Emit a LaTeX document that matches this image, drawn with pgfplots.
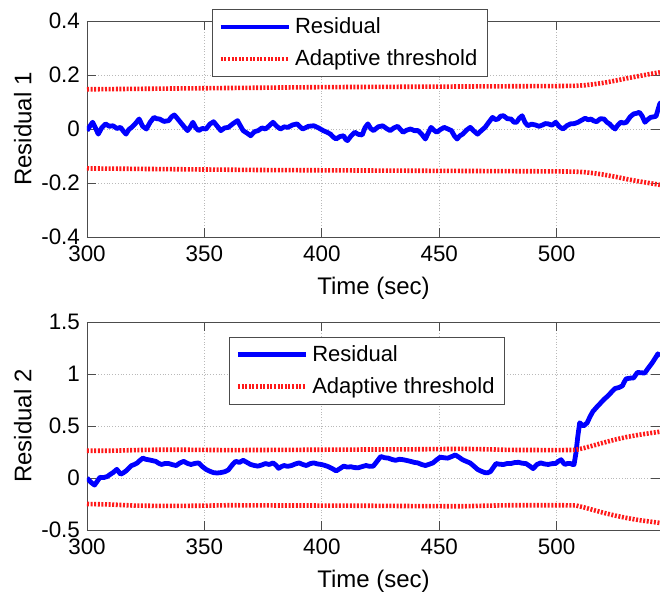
\documentclass[border=0pt]{standalone}
\usepackage{fontspec}
\setmainfont{Liberation Sans}
\usepackage{pgfplots}
\pgfplotsset{compat=1.18}
\begin{document}
\begin{tikzpicture}
\pgfplotsset{
  mystyle/.style={
    scale only axis, width=286.5pt, xmin=300, xmax=544,
    xtick={300,350,400,450,500},
    grid=major, grid style={densely dotted, gray!55},
    axis line style={gray!60!black},
    every tick/.style={gray!60!black},
    tick align=inside,
    ticklabel style={font=\fontsize{11.2}{13}\selectfont},
    xticklabel style={inner sep=1.5pt, yshift=-2.5pt},
    xlabel={Time (sec)},
    xlabel style={font=\fontsize{12}{14}\selectfont, at={(axis description cs:0.5,0)}, anchor=center, yshift=-25.5pt},
    ylabel style={font=\fontsize{12}{14}\selectfont, at={(axis description cs:-0.112,0.5)}, anchor=center},
    /pgf/number format/assume math mode=true,
    legend cell align=left,
    legend style={font=\fontsize{11}{13}\selectfont, draw=gray!60!black, row sep=2.5pt, inner xsep=3pt, inner ysep=2pt, anchor=north west},
    legend image code/.code={\draw[##1] (0pt,0pt) -- (34pt,0pt);},
  },
  resid/.style={color={rgb,1:red,0;green,0;blue,1}, line width=2.4pt, line join=round},
  thr/.style={color={rgb,1:red,1;green,0.1;blue,0.1}, line width=2.3pt, dash pattern=on 1pt off 0.8pt},
}
\begin{axis}[mystyle, at={(0,0)}, anchor=north west, height=108pt,
  ymin=-0.4, ymax=0.4, ytick={-0.4,-0.2,0,0.2,0.4},
  yticklabels={-0.4,-0.2,0,0.2,0.4},
  ylabel={Residual 1},
  legend style={at={(0.218,1.055)}}]
\addplot[resid] coordinates {
(300.0,-0.006)(301.2,0.010)(302.4,0.025)(303.6,0.004)(304.8,-0.019)(306.3,0.005)(307.9,0.019)(309.5,0.010)(311.1,0.012)(312.7,0.002)(314.3,0.006)(315.5,-0.008)(316.6,-0.019)(317.8,-0.002)(319.0,0.006)(320.6,0.020)(322.2,0.037)(323.7,0.010)(325.3,0.000)(326.9,0.025)(328.5,0.043)(329.7,0.038)(330.9,0.037)(332.8,0.028)(334.8,0.031)(336.0,0.045)(337.2,0.052)(338.4,0.040)(339.6,0.027)(341.2,0.010)(342.8,-0.006)(344.0,0.008)(345.1,0.025)(346.3,0.005)(347.5,-0.006)(349.1,0.002)(350.7,0.000)(352.3,0.018)(353.9,0.027)(355.5,0.010)(357.0,-0.006)(358.6,0.004)(360.2,0.006)(362.2,0.020)(364.1,0.031)(365.3,0.012)(366.5,-0.006)(368.1,-0.015)(369.7,-0.025)(371.3,-0.010)(372.9,-0.006)(374.5,0.004)(376.0,0.000)(377.6,0.012)(379.2,0.025)(380.8,0.010)(382.4,0.000)(384.0,0.008)(385.5,0.006)(387.5,0.015)(389.5,0.019)(390.7,0.008)(391.9,0.000)(394.3,0.010)(396.6,0.012)(398.6,0.004)(400.6,-0.006)(402.2,-0.012)(403.7,-0.019)(404.9,-0.030)(406.1,-0.037)(407.7,-0.028)(409.3,-0.025)(410.1,-0.038)(410.9,-0.043)(412.5,-0.025)(414.0,-0.012)(415.6,-0.020)(417.2,-0.022)(418.4,0.005)(419.6,0.019)(420.8,0.002)(422.0,-0.006)(424.0,0.008)(425.9,0.012)(427.5,0.002)(429.1,-0.006)(430.7,0.004)(432.3,0.010)(433.5,-0.002)(434.6,-0.012)(436.2,-0.004)(437.8,0.000)(439.4,-0.006)(441.0,-0.006)(442.6,-0.020)(444.1,-0.037)(445.3,-0.015)(446.5,0.006)(447.7,-0.004)(448.9,-0.012)(450.5,-0.002)(452.1,0.006)(453.7,0.000)(455.2,-0.006)(456.4,-0.025)(457.6,-0.037)(458.8,-0.025)(460.0,-0.019)(461.6,-0.004)(463.2,0.006)(464.8,-0.008)(466.3,-0.019)(467.9,-0.006)(469.5,0.006)(471.1,0.025)(472.7,0.043)(473.9,0.035)(475.0,0.037)(476.2,0.048)(477.4,0.049)(479.0,0.038)(480.6,0.037)(481.8,0.025)(482.9,0.025)(484.1,0.040)(485.3,0.049)(486.5,0.025)(487.7,0.012)(489.3,0.018)(490.9,0.015)(492.5,0.010)(494.0,0.015)(495.2,0.020)(496.4,0.019)(498.0,0.014)(499.6,0.025)(501.2,0.008)(502.7,0.000)(504.3,0.012)(505.9,0.019)(507.5,0.020)(509.1,0.025)(510.7,0.033)(512.2,0.040)(513.4,0.034)(514.6,0.037)(515.8,0.030)(517.0,0.027)(518.6,0.038)(520.2,0.037)(521.4,0.025)(522.5,0.019)(523.7,0.008)(524.9,0.000)(526.1,0.015)(527.3,0.025)(528.5,0.022)(529.7,0.025)(531.3,0.045)(532.8,0.056)(534.0,0.058)(535.2,0.062)(536.4,0.048)(537.6,0.025)(538.8,0.035)(540.0,0.043)(541.2,0.045)(542.3,0.047)(543.1,0.070)(543.9,0.093)(544.5,0.099)
};
\addlegendentry{Residual}
\addplot[thr] coordinates {
(300,0.147)(325,0.149)(350,0.151)(375,0.153)(400,0.155)(425,0.156)(450,0.157)(475,0.158)(500,0.159)(508,0.160)(512,0.162)(516,0.166)(520,0.171)(525,0.179)(530,0.188)(535,0.196)(540,0.204)(544,0.210)
};
\addlegendentry{Adaptive threshold}
\addplot[thr, forget plot] coordinates {
(300,-0.146)(325,-0.148)(350,-0.150)(375,-0.152)(400,-0.153)(425,-0.154)(450,-0.155)(475,-0.156)(500,-0.157)(508,-0.158)(512,-0.160)(516,-0.164)(520,-0.169)(525,-0.177)(530,-0.186)(535,-0.194)(540,-0.201)(544,-0.207)
};
\end{axis}
\begin{axis}[mystyle, at={(0,-150.5pt)}, anchor=north west, height=104pt,
  ymin=-0.5, ymax=1.5, ytick={-0.5,0,0.5,1,1.5},
  yticklabels={-0.5,0,0.5,1,1.5},
  ylabel={Residual 2},
  legend style={at={(0.248,0.928)}}]
\addplot[resid] coordinates {
(300.0,0.000)(301.6,-0.040)(303.2,-0.068)(304.4,-0.030)(305.5,0.006)(307.1,0.004)(308.7,0.015)(309.9,0.035)(311.1,0.052)(312.7,0.083)(314.3,0.037)(315.5,0.050)(316.6,0.068)(317.8,0.095)(319.0,0.120)(320.2,0.130)(321.4,0.145)(322.6,0.170)(323.8,0.191)(325.0,0.180)(326.1,0.176)(327.7,0.168)(329.3,0.160)(330.5,0.142)(331.7,0.130)(333.3,0.140)(334.8,0.139)(336.4,0.128)(338.0,0.120)(339.6,0.145)(341.2,0.160)(342.8,0.140)(344.3,0.130)(345.9,0.140)(347.5,0.145)(349.1,0.110)(350.7,0.083)(352.3,0.065)(353.8,0.052)(355.4,0.048)(357.0,0.052)(358.6,0.060)(360.2,0.077)(361.8,0.125)(363.3,0.160)(364.9,0.150)(366.5,0.170)(368.1,0.150)(369.7,0.130)(371.3,0.120)(372.8,0.114)(374.4,0.125)(376.0,0.139)(377.6,0.130)(379.2,0.145)(380.4,0.125)(381.6,0.093)(382.8,0.110)(383.9,0.120)(385.5,0.112)(387.1,0.120)(388.7,0.135)(390.3,0.145)(391.9,0.130)(393.4,0.120)(395.0,0.138)(396.6,0.145)(398.2,0.135)(399.8,0.130)(401.4,0.120)(402.9,0.108)(404.5,0.090)(406.1,0.068)(407.7,0.090)(409.3,0.114)(410.9,0.105)(412.4,0.108)(414.0,0.100)(415.6,0.099)(417.2,0.110)(418.8,0.120)(420.4,0.112)(421.9,0.114)(423.5,0.160)(425.1,0.207)(426.7,0.195)(428.3,0.191)(429.9,0.178)(431.4,0.170)(433.0,0.180)(434.6,0.176)(436.2,0.168)(437.8,0.160)(439.4,0.150)(440.9,0.145)(442.5,0.130)(444.1,0.120)(445.7,0.132)(447.3,0.145)(448.9,0.175)(450.4,0.200)(452.0,0.195)(453.6,0.191)(455.2,0.205)(456.8,0.222)(458.4,0.200)(459.9,0.176)(461.5,0.160)(463.1,0.145)(464.7,0.115)(466.3,0.083)(467.9,0.065)(469.4,0.052)(470.6,0.050)(471.8,0.062)(473.0,0.100)(474.2,0.139)(475.8,0.132)(477.4,0.130)(479.0,0.140)(480.5,0.139)(482.1,0.148)(483.7,0.151)(485.3,0.142)(486.9,0.139)(488.5,0.115)(490.0,0.090)(491.6,0.130)(493.2,0.145)(494.8,0.135)(496.4,0.130)(498.0,0.138)(499.5,0.139)(500.7,0.160)(501.9,0.176)(502.7,0.150)(503.5,0.130)(504.7,0.140)(505.9,0.139)(506.7,0.130)(507.4,0.130)(508.2,0.238)(509.0,0.400)(509.8,0.531)(510.6,0.515)(511.4,0.500)(512.2,0.515)(513.0,0.531)(514.2,0.590)(515.4,0.639)(517.0,0.680)(518.5,0.716)(520.1,0.755)(521.7,0.787)(523.3,0.825)(524.9,0.861)(526.5,0.870)(528.0,0.886)(528.8,0.925)(529.6,0.954)(531.2,0.960)(532.8,0.963)(533.6,0.990)(534.4,1.015)(535.9,1.012)(537.5,1.009)(539.1,1.060)(540.7,1.108)(541.9,1.150)(543.1,1.194)(544.0,1.170)
};
\addlegendentry{Residual}
\addplot[thr] coordinates {
(300,0.262)(310,0.262)(320,0.268)(330,0.272)(340,0.272)(350,0.270)(360,0.268)(380,0.270)(400,0.272)(420,0.274)(440,0.276)(460,0.280)(470,0.276)(480,0.270)(500,0.268)(508,0.270)(512,0.290)(516,0.315)(520,0.340)(525,0.370)(530,0.395)(535,0.415)(540,0.432)(544,0.445)
};
\addlegendentry{Adaptive threshold}
\addplot[thr, forget plot] coordinates {
(300,-0.250)(310,-0.255)(320,-0.265)(330,-0.268)(340,-0.268)(350,-0.266)(360,-0.262)(380,-0.264)(400,-0.265)(420,-0.267)(440,-0.270)(460,-0.272)(470,-0.266)(480,-0.262)(500,-0.262)(508,-0.263)(512,-0.285)(516,-0.310)(520,-0.335)(525,-0.362)(530,-0.385)(535,-0.405)(540,-0.420)(544,-0.432)
};
\end{axis}
\pgfresetboundingbox
\useasboundingbox (-43.5pt,10.5pt) rectangle (286.5pt,-289.5pt);
\end{tikzpicture}
\end{document}
